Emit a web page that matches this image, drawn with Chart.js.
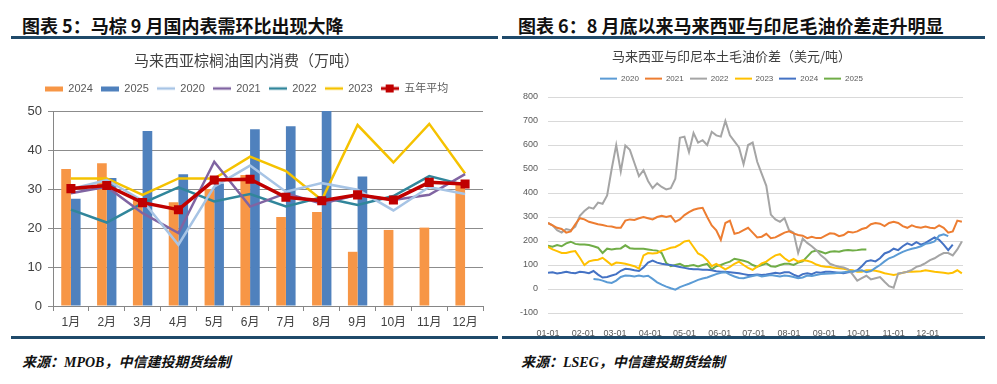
<!DOCTYPE html>
<html><head><meta charset="utf-8">
<script src="https://cdn.jsdelivr.net/npm/chart.js@4.4.1/dist/chart.umd.min.js"></script>
<style>
html,body{margin:0;padding:0;background:#fff;}
body{width:997px;height:384px;position:relative;overflow:hidden;font-family:"Noto Sans CJK SC",sans-serif;}
.hd{position:absolute;top:14px;font-size:18px;font-weight:700;color:#111;line-height:22px;white-space:nowrap;}
.rule{position:absolute;height:3px;background:#1f4a6a;}
.src{position:absolute;top:353px;font-family:"Liberation Serif","Noto Sans CJK SC",serif;font-style:italic;font-weight:700;font-size:14px;color:#111;line-height:20px;white-space:nowrap;}
canvas{position:absolute;}
</style></head><body>
<div class="hd" style="left:22px;">图表 5：马棕 9 月国内表需环比出现大降</div>
<div class="hd" style="left:518px;">图表 6：8 月底以来马来西亚与印尼毛油价差走升明显</div>
<div class="rule" style="left:11px;width:487px;top:36px;"></div>
<div class="rule" style="left:502px;width:483px;top:36px;"></div>
<canvas id="c1" width="490" height="296" style="left:10px;top:40px;"></canvas>
<canvas id="c2" width="487" height="296" style="left:500px;top:40px;"></canvas>
<div class="rule" style="left:11px;width:487px;top:336px;"></div>
<div class="rule" style="left:502px;width:483px;top:336px;"></div>
<div class="src" style="left:22px;">来源：MPOB，中信建投期货绘制</div>
<div class="src" style="left:521px;">来源：LSEG，中信建投期货绘制</div>
<script>
// ---------- Left chart data (万吨) ----------
const months = ['1月','2月','3月','4月','5月','6月','7月','8月','9月','10月','11月','12月'];
const cons2024 = [35.1, 36.6, 27.2, 26.6, 30.0, 33.6, 22.8, 24.1, 13.9, 19.5, 20.1, 31.0];
const cons2025 = [27.5, 32.8, 44.9, 33.8, 31.4, 45.3, 46.1, 50.0, 33.2, null, null, null];
const cons2020 = [30.0, 32.3, 27.0, 15.7, 30.6, 36.0, 29.3, 31.5, 29.8, 24.5, 30.5, 28.7];
const cons2021 = [28.9, 30.6, 23.8, 18.7, 37.0, 25.5, 28.9, 26.2, 28.5, 27.2, 28.5, 33.8];
const cons2022 = [24.7, 21.4, 26.4, 30.4, 26.8, 28.7, 25.5, 27.9, 25.9, 28.2, 33.3, 31.0];
const cons2023 = [32.7, 32.7, 28.5, 32.7, 32.7, 38.3, 34.6, 27.2, 46.4, 36.8, 46.7, 34.0];
const consAvg5 = [30.1, 30.9, 26.5, 24.7, 32.3, 32.5, 27.9, 27.0, 28.5, 27.2, 31.7, 31.3];
const leftTicks = [0, 10, 20, 30, 40, 50];

// ---------- Right chart data (美元/吨), sampled every 4 days from 01-01 ----------
const monthStartDays = [0, 31, 59, 90, 120, 151, 181, 212, 243, 273, 304, 334];
const monthStartLabels = ['01-01','02-01','03-01','04-01','05-01','06-01','07-01','08-01','09-01','10-01','11-01','12-01'];
const sampleDays = Array.from({length: 92}, (_, i) => i * 4);
const sp2020 = [
 null,null,null,null,null,null,null,null,null,null,
 42,40,35,28,25,35,50,56,55,52,
 56,52,55,42,28,18,10,3,-3,8,
 15,22,30,38,44,48,55,62,68,70,
 60,52,46,45,50,54,58,52,55,58,
 55,52,56,54,50,45,48,56,54,58,
 62,64,65,66,68,70,72,74,76,78,
 70,75,88,100,115,128,135,145,155,162,
 168,172,178,188,192,198,222,228,220,null,
 null,null];
const sp2021 = [
 275,265,255,250,235,240,270,295,290,280,
 275,270,267,262,260,255,255,285,290,288,
 295,300,295,290,300,305,300,305,280,290,
 308,320,330,335,338,300,265,245,205,275,
 285,230,235,245,255,235,215,218,230,212,
 215,225,235,240,232,225,222,212,218,212,
 212,222,232,230,220,225,238,235,240,250,
 255,270,275,272,262,275,280,275,262,255,
 265,258,255,260,255,253,265,255,235,240,
 285,280];
const sp2022 = [
 275,265,245,235,250,245,260,305,325,340,
 335,360,355,390,500,600,490,598,580,525,
 470,495,450,420,440,425,415,420,460,630,
 635,570,650,610,620,600,655,640,635,700,
 640,615,590,520,600,610,530,480,430,310,
 290,280,295,245,235,150,210,192,178,162,
 140,125,105,98,93,90,82,60,35,45,
 55,40,45,50,30,12,5,65,68,72,
 80,92,98,108,120,128,140,150,150,140,
 165,198];
const sp2023 = [
 176,165,158,150,150,155,158,130,100,115,
 120,122,130,115,100,110,108,105,100,95,
 85,140,150,148,150,160,165,172,175,185,
 198,202,175,148,138,120,95,105,93,82,
 92,105,114,100,88,80,93,107,114,128,
 140,145,128,115,125,114,120,118,112,102,
 96,93,92,88,86,84,80,78,72,72,
 78,78,76,72,66,62,58,62,68,72,
 72,73,74,78,75,72,70,68,65,68,
 78,65];
const sp2024 = [
 68,70,65,68,72,68,66,72,70,66,
 75,60,48,50,56,62,76,84,82,78,
 75,90,110,118,110,105,102,100,96,92,
 88,84,82,82,80,80,78,74,72,72,
 70,68,66,62,58,58,60,58,60,64,
 68,65,70,70,60,52,62,66,62,70,
 68,72,72,70,68,66,70,72,78,95,
 115,120,115,128,148,155,168,162,178,190,
 183,195,185,192,204,215,205,185,162,185,
 null,null];
const sp2025 = [
 180,176,183,178,190,197,188,185,185,183,
 178,172,150,168,165,168,169,182,170,168,
 168,168,165,162,160,150,108,95,100,105,
 95,97,100,94,100,105,82,95,100,108,
 114,126,122,118,112,100,93,100,107,95,
 93,100,105,105,100,110,115,135,155,160,
 155,148,155,157,155,160,162,160,162,165,
 165,null,null,null,null,null,null,null,null,null,
 null,null,null,null,null,null,null,null,null,null,
 null,null];
const rightTicks = [-100, 0, 100, 200, 300, 400, 500, 600, 700, 800];

// ---------- helpers ----------
const F = "'Liberation Sans','Noto Sans CJK SC',sans-serif";
const FC = "'Noto Sans CJK SC',sans-serif";
function swatch(w, h, draw) {
  const c = document.createElement('canvas'); c.width = w; c.height = h;
  draw(c.getContext('2d'), w, h); return c;
}
const barSw = (col, w) => swatch(w, 10, (g, W) => { g.fillStyle = col; g.fillRect(0, 3, W, 5); });
const lineSw = (col, lw, w) => swatch(w, 10, (g, W) => { g.strokeStyle = col; g.lineWidth = lw; g.beginPath(); g.moveTo(0, 5); g.lineTo(W, 5); g.stroke(); });
const avgSw = (col, w) => swatch(w, 10, (g, W) => {
  g.strokeStyle = col; g.lineWidth = 3; g.beginPath(); g.moveTo(0, 5); g.lineTo(W, 5); g.stroke();
  g.fillStyle = col; g.fillRect(W / 2 - 4, 1, 8, 8);
});
const legendGap = {
  id: 'legendGap',
  beforeInit(chart, args, opts) {
    const lg = chart.legend; if (!lg) return;
    const orig = lg.fit.bind(lg);
    lg.fit = function () { orig(); if (this.height) this.height += (opts.gap || 0); };
  }
};
function makeLabels(swatches, color) {
  return chart => chart.data.datasets.map((ds, i) => ({
    text: ds.label, pointStyle: swatches[i], datasetIndex: i, hidden: false,
    fillStyle: 'rgba(0,0,0,0)', strokeStyle: 'rgba(0,0,0,0)', lineWidth: 0, fontColor: color
  }));
}

// ---------- Left chart ----------
const cOr = '#F79646', cBl = '#4F81BD', c20 = '#A7C4E5', c21 = '#8064A2', c22 = '#31869B', c23 = '#F5C200', cAvg = '#C00000';
const leftSw = [barSw(cOr, 18), barSw(cBl, 18), lineSw(c20, 2.5, 18), lineSw(c21, 2.5, 18), lineSw(c22, 2.5, 18), lineSw(c23, 2.5, 18), avgSw(cAvg, 18)];
const lineDs = (label, data, col) => ({type: 'line', label, data, borderColor: col, backgroundColor: col, borderWidth: 2.5, pointRadius: 0, tension: 0, order: 2});
new Chart(document.getElementById('c1'), {
  type: 'bar',
  data: {
    labels: months,
    datasets: [
      {type: 'bar', label: '2024', data: cons2024, backgroundColor: cOr, order: 3, categoryPercentage: 0.54, barPercentage: 1.0},
      {type: 'bar', label: '2025', data: cons2025, backgroundColor: cBl, order: 3, categoryPercentage: 0.54, barPercentage: 1.0},
      lineDs('2020', cons2020, c20),
      lineDs('2021', cons2021, c21),
      lineDs('2022', cons2022, c22),
      lineDs('2023', cons2023, c23),
      {type: 'line', label: '五年平均', data: consAvg5, borderColor: cAvg, backgroundColor: cAvg, borderWidth: 3.5,
       pointStyle: 'rect', pointRadius: 6.4, pointBorderWidth: 0, tension: 0, order: 1}
    ]
  },
  options: {
    responsive: false, animation: false, devicePixelRatio: 1,
    layout: {padding: {left: 0, right: 17, top: 0, bottom: 0}},
    plugins: {
      tooltip: {enabled: false},
      title: {display: true, text: '马来西亚棕榈油国内消费（万吨）', color: '#404040',
        font: {size: 15, family: FC, weight: 'normal'}, padding: {top: 11, bottom: 6}},
      legend: {display: true, position: 'top',
        labels: {usePointStyle: true, pointStyleWidth: 18, padding: 8, color: '#595959',
          font: {size: 11, family: F}, generateLabels: makeLabels(leftSw, '#595959')}},
      legendGap: {gap: 7}
    },
    scales: {
      x: {grid: {display: true, drawOnChartArea: false, drawTicks: true, tickLength: 5, color: '#868686', offset: true},
          border: {display: true, color: '#868686'},
          ticks: {color: '#404040', font: {size: 12, family: F}, padding: 4, maxRotation: 0},
          afterFit: s => { s.height = 30; }},
      y: {min: 0, max: 50,
          afterBuildTicks: s => { s.ticks = leftTicks.map(v => ({value: v})); },
          ticks: {color: '#404040', font: {size: 13, family: F}, padding: 6},
          grid: {color: '#8C8C8C', tickLength: 5, drawTicks: true},
          border: {display: true, color: '#868686'},
          afterFit: s => { s.width = 43; }}
    }
  },
  plugins: [legendGap]
});

// ---------- Right chart ----------
const r20 = '#5B9BD5', r21 = '#ED7D31', r22 = '#A5A5A5', r23 = '#FFC000', r24 = '#4472C4', r25 = '#70AD47';
const rightSw = [r20, r21, r22, r23, r24, r25].map(c => lineSw(c, 2, 17));
const toXY = vals => sampleDays.map((d, i) => ({x: d, y: vals[i]}));
const rDs = (label, vals, col) => ({label, data: toXY(vals), borderColor: col, backgroundColor: col, borderWidth: 2, pointRadius: 0, tension: 0, spanGaps: false});
new Chart(document.getElementById('c2'), {
  type: 'line',
  data: {
    datasets: [
      rDs('2020', sp2020, r20),
      rDs('2021', sp2021, r21),
      rDs('2022', sp2022, r22),
      rDs('2023', sp2023, r23),
      rDs('2024', sp2024, r24),
      rDs('2025', sp2025, r25)
    ]
  },
  options: {
    responsive: false, animation: false, devicePixelRatio: 1,
    layout: {padding: {left: 0, right: 24, top: 0, bottom: 0}},
    plugins: {
      tooltip: {enabled: false},
      title: {display: true, text: '马来西亚与印尼本土毛油价差（美元/吨）', color: '#404040',
        font: {size: 13, family: FC, weight: 'normal'}, padding: {top: 8, bottom: 5}},
      legend: {display: true, position: 'top',
        labels: {usePointStyle: true, pointStyleWidth: 17, padding: 6, color: '#595959',
          font: {size: 8, family: F}, generateLabels: makeLabels(rightSw, '#595959')}},
      legendGap: {gap: 4.4}
    },
    scales: {
      x: {type: 'linear', min: 0, max: 365,
          afterBuildTicks: s => { s.ticks = monthStartDays.map(v => ({value: v})); },
          ticks: {autoSkip: false, maxRotation: 0, color: '#595959', font: {size: 9, family: F}, padding: 7,
            callback: v => monthStartLabels[monthStartDays.indexOf(v)]},
          grid: {display: false}, border: {display: false},
          afterFit: s => { s.height = 23; }},
      y: {min: -100, max: 800,
          afterBuildTicks: s => { s.ticks = rightTicks.map(v => ({value: v})); },
          ticks: {color: '#595959', font: {size: 9, family: F}, padding: 10},
          grid: {color: '#D9D9D9', drawTicks: false},
          border: {display: false},
          afterFit: s => { s.width = 48; }}
    }
  },
  plugins: [legendGap]
});
</script>
</body></html>
